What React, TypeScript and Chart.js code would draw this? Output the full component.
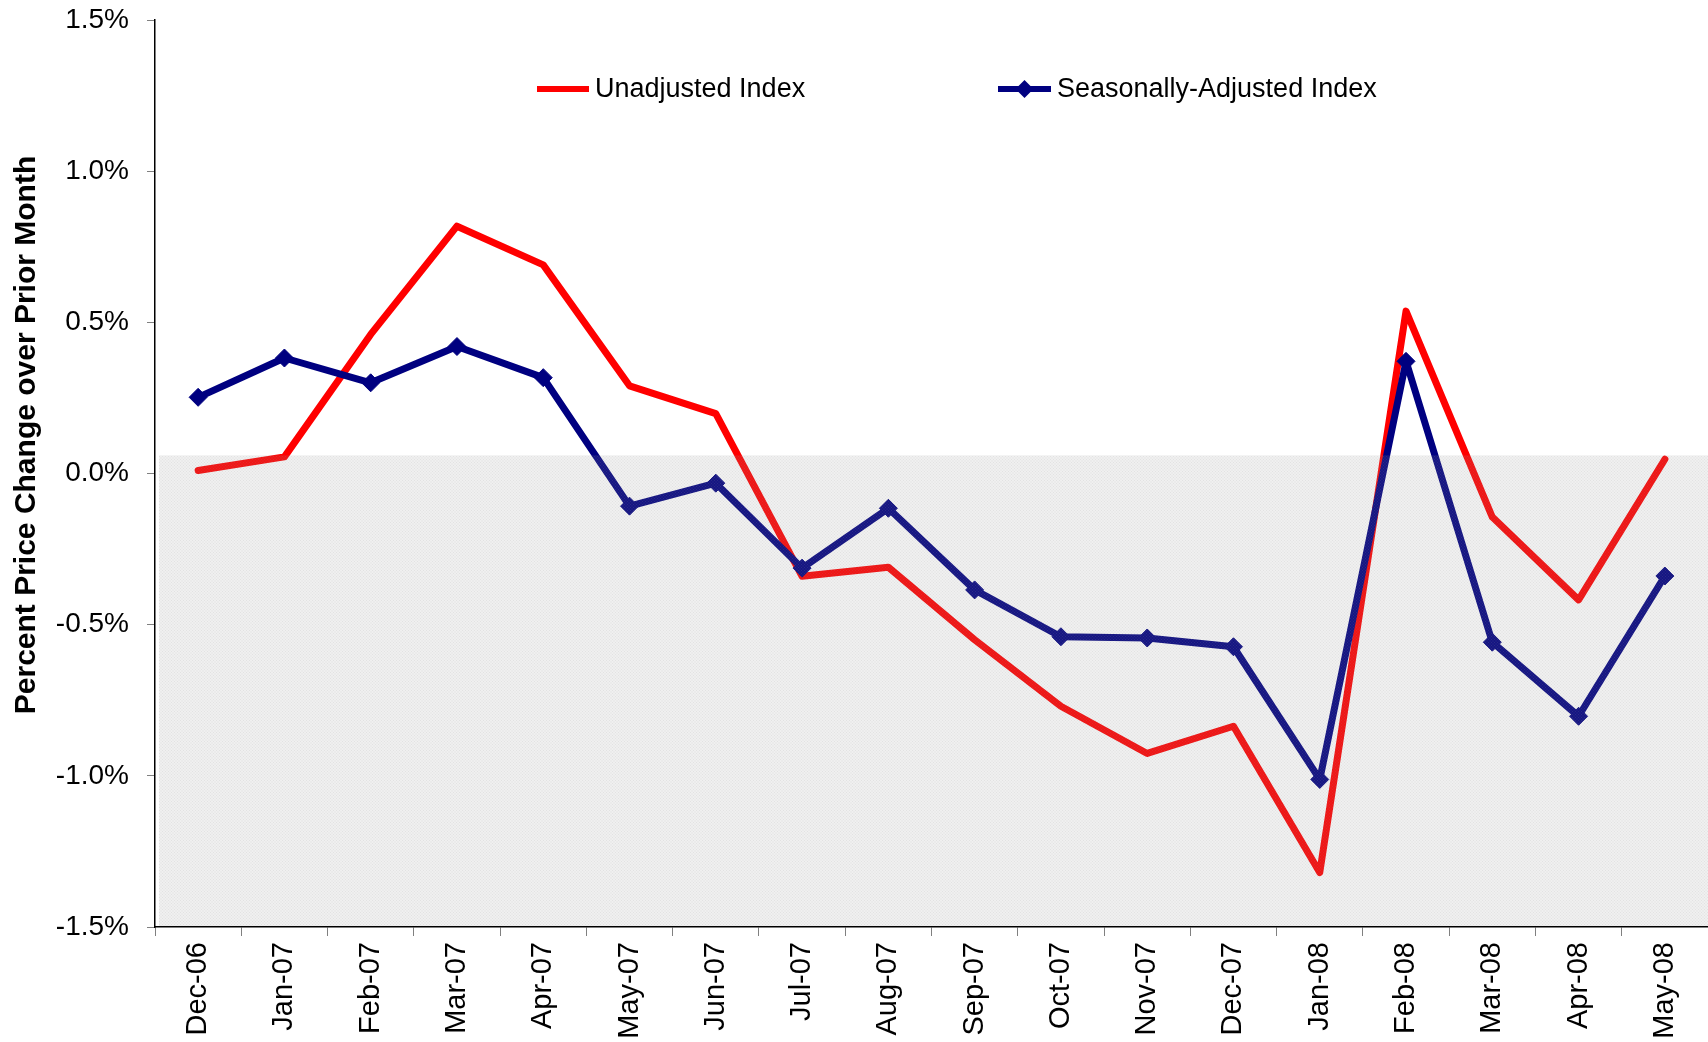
import React, { useEffect, useRef } from 'react';
import { Chart, registerables } from 'chart.js';

Chart.register(...registerables);

const months = [
  'Dec-06', 'Jan-07', 'Feb-07', 'Mar-07', 'Apr-07', 'May-07', 'Jun-07', 'Jul-07', 'Aug-07',
  'Sep-07', 'Oct-07', 'Nov-07', 'Dec-07', 'Jan-08', 'Feb-08', 'Mar-08', 'Apr-08', 'May-08',
];

const unadjusted = [
  0.01, 0.055, 0.46, 0.818, 0.69, 0.29, 0.198, -0.34, -0.31,
  -0.55, -0.77, -0.926, -0.836, -1.32, 0.537, -0.144, -0.418, 0.047,
];

const seasonallyAdjusted = [
  0.252, 0.382, 0.30, 0.42, 0.317, -0.108, -0.032, -0.313, -0.115,
  -0.385, -0.54, -0.544, -0.573, -1.012, 0.371, -0.558, -0.803, -0.339,
];

const seriesNames = ['Unadjusted Index', 'Seasonally-Adjusted Index'];
const yAxisTitle = 'Percent Price Change over Prior Month';
const Y_MIN = -1.5;
const Y_MAX = 1.5;
const Y_STEP = 0.5;
const SHADE_TOP = 0.06;

const FONT = '"Liberation Sans", Arial, Helvetica, sans-serif';
const RED = '#ff0000';
const NAVY = '#000080';

function makePattern(ctx: CanvasRenderingContext2D) {
  const c = document.createElement('canvas');
  c.width = 3;
  c.height = 3;
  const p = c.getContext('2d')!;
  p.fillStyle = 'rgba(150,150,150,0.19)';
  p.fillRect(0, 0, 3, 3);
  p.clearRect(0, 0, 3, 1);
  p.clearRect(0, 0, 1, 3);
  p.fillStyle = 'rgba(150,150,150,0.14)';
  p.fillRect(0, 0, 3, 1);
  p.fillRect(0, 0, 1, 3);
  p.clearRect(0, 0, 1, 1);
  p.fillStyle = 'rgba(150,150,150,0.28)';
  p.fillRect(0, 0, 1, 1);
  return ctx.createPattern(c, 'repeat');
}

const shadePlugin = {
  id: 'shadeOverlay',
  afterDatasetsDraw(chart: any) {
    const { ctx, chartArea, scales } = chart;
    const y = scales.y.getPixelForValue(SHADE_TOP);
    ctx.save();
    ctx.fillStyle = makePattern(ctx) || 'rgba(150,150,150,0.19)';
    const left = chartArea.left + 4;
    ctx.fillRect(left, y, chartArea.right - left, chartArea.bottom - 1 - y);
    ctx.restore();
  },
};

const titlePlugin = {
  id: 'yTitle',
  afterDraw(chart: any) {
    const { ctx } = chart;
    ctx.save();
    ctx.translate(27, 435);
    ctx.rotate(-Math.PI / 2);
    ctx.fillStyle = '#000';
    ctx.font = `bold 30px ${FONT}`;
    ctx.textAlign = 'center';
    ctx.textBaseline = 'middle';
    ctx.fillText(yAxisTitle, 0, 0);
    ctx.restore();
  },
};

const legendPlugin = {
  id: 'insideLegend',
  afterDraw(chart: any) {
    const { ctx } = chart;
    const ds = chart.data.datasets;
    const items = [
      { x0: 537, x1: 589, tx: 595, y: 89, color: ds[0].borderColor, marker: false, label: ds[0].label },
      { x0: 998, x1: 1051, tx: 1057, y: 89, color: ds[1].borderColor, marker: true, label: ds[1].label },
    ];
    ctx.save();
    for (const it of items) {
      ctx.strokeStyle = it.color;
      ctx.lineWidth = 6;
      ctx.lineCap = 'butt';
      ctx.beginPath();
      ctx.moveTo(it.x0, it.y);
      ctx.lineTo(it.x1, it.y);
      ctx.stroke();
      if (it.marker) {
        const cx = (it.x0 + it.x1) / 2;
        const r = 9;
        ctx.fillStyle = it.color;
        ctx.beginPath();
        ctx.moveTo(cx, it.y - r);
        ctx.lineTo(cx + r, it.y);
        ctx.lineTo(cx, it.y + r);
        ctx.lineTo(cx - r, it.y);
        ctx.closePath();
        ctx.fill();
      }
      ctx.fillStyle = '#000';
      ctx.font = `27px ${FONT}`;
      ctx.textBaseline = 'middle';
      ctx.textAlign = 'left';
      ctx.fillText(it.label, it.tx, it.y + 1);
    }
    ctx.restore();
  },
};

export default function App() {
  const ref = useRef<HTMLCanvasElement | null>(null);

  useEffect(() => {
    document.body.style.margin = '0';
    const canvas = ref.current;
    if (!canvas) return;
    const chart = new Chart(canvas, {
      type: 'line',
      data: {
        labels: months,
        datasets: [
          {
            label: seriesNames[0],
            data: unadjusted,
            borderColor: RED,
            backgroundColor: RED,
            borderWidth: 7,
            pointRadius: 0,
            tension: 0,
            fill: false,
            order: 1,
            borderJoinStyle: 'round',
            borderCapStyle: 'round',
          },
          {
            label: seriesNames[1],
            data: seasonallyAdjusted,
            borderColor: NAVY,
            backgroundColor: NAVY,
            borderWidth: 7,
            pointStyle: 'rectRot',
            pointRadius: 9,
            pointBorderWidth: 1,
            pointBackgroundColor: NAVY,
            pointBorderColor: NAVY,
            tension: 0,
            fill: false,
            order: 0,
            borderJoinStyle: 'round',
          },
        ],
      },
      options: {
        responsive: false,
        animation: false,
        events: [],
        layout: { autoPadding: false, padding: { top: 20, right: 0, bottom: 0, left: 0 } },
        plugins: {
          legend: { display: false },
          tooltip: { enabled: false },
        },
        scales: {
          x: {
            type: 'category',
            offset: true,
            grid: {
              display: true,
              offset: true,
              drawOnChartArea: false,
              drawTicks: true,
              tickLength: 9,
              color: '#808080',
              lineWidth: 1,
            },
            border: { display: true, color: '#000', width: 1.5 },
            ticks: {
              color: '#000',
              font: { family: FONT, size: 29 },
              maxRotation: 90,
              minRotation: 90,
              padding: 6,
              autoSkip: false,
            },
            afterFit(scale: any) {
              scale.height = 115;
              scale.paddingLeft = 0;
              scale.paddingRight = 0;
            },
          },
          y: {
            min: Y_MIN,
            max: Y_MAX,
            grid: {
              display: true,
              drawOnChartArea: false,
              drawTicks: true,
              tickLength: 8,
              color: '#808080',
              lineWidth: 1,
            },
            border: { display: true, color: '#000', width: 1.5 },
            ticks: {
              stepSize: Y_STEP,
              color: '#000',
              font: { family: FONT, size: 28 },
              padding: 18,
              callback: (v: any) => `${Number(v).toFixed(1)}%`,
            },
            afterFit(scale: any) {
              scale.width = 155;
              scale.paddingTop = 0;
              scale.paddingBottom = 0;
            },
          },
        },
      },
      plugins: [shadePlugin, legendPlugin, titlePlugin],
    });
    return () => chart.destroy();
  }, []);

  return (
    <div style={{ width: 1708, height: 1042, background: '#fff' }}>
      <canvas ref={ref} width={1708} height={1042} style={{ display: 'block' }} />
    </div>
  );
}
